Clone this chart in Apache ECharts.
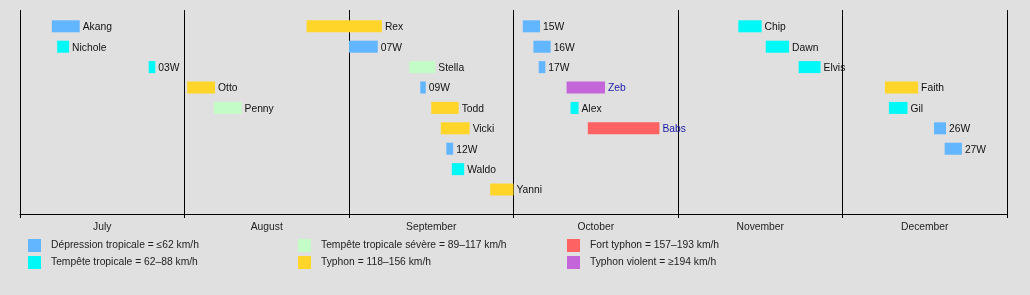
<!DOCTYPE html>
<html>
<head>
<meta charset="utf-8">
<script src="https://cdn.jsdelivr.net/npm/echarts@6/dist/echarts.min.js"></script>
<style>
html,body{margin:0;padding:0;background:#e0e0e0;}
#chart{width:1030px;height:295px;}
</style>
</head>
<body>
<div id="chart"></div>
<script>
// ---- data ----
const months = ['July', 'August', 'September', 'October', 'November', 'December'];
const monthNumbers = [7, 8, 9, 10, 11, 12];
const daysInMonth = [31, 31, 30, 31, 30, 31];

const stormNames = ['Akang','Nichole','03W','Otto','Penny','Rex','07W','Stella','09W','Todd','Vicki','12W','Waldo','Yanni',
  '15W','16W','17W','Zeb','Alex','Babs','Chip','Dawn','Elvis','Faith','Gil','26W','27W'];
const stormClass = ['TD','TS','TS','TY','STS','TY','TD','STS','TD','TY','TY','TD','TS','TY',
  'TD','TD','TD','VTY','TS','STY','TS','TS','TS','TY','TS','TD','TD'];
const stormStart = ['07-07 00','07-08 00','07-25 06','08-01 12','08-06 12','08-24 00','09-01 00','09-12 00','09-14 00','09-16 00','09-17 18','09-18 18','09-19 18','09-26 18',
  '10-02 18','10-04 18','10-05 18','10-11 00','10-11 18','10-15 00','11-12 00','11-17 00','11-23 00','12-09 00','12-09 18','12-18 06','12-20 06'];
const stormEnd = ['07-12 06','07-10 06','07-26 12','08-06 18','08-11 18','09-07 00','09-06 06','09-16 18','09-15 00','09-21 00','09-23 00','09-20 00','09-22 00','10-01 00',
  '10-06 00','10-08 00','10-07 00','10-18 06','10-13 06','10-28 12','11-16 06','11-21 06','11-27 00','12-15 06','12-13 06','12-20 12','12-23 12'];
const stormLane = [0,1,2,3,4,0,1,2,3,4,5,6,7,8,
  0,1,2,3,4,5,0,1,2,3,4,5,6];
const linkedNames = ['Zeb','Babs'];

const classKeys = ['TD','TS','STS','TY','STY','VTY'];
const classLabels = [
  'Dépression tropicale = ≤62 km/h',
  'Tempête tropicale = 62–88 km/h',
  'Tempête tropicale sévère = 89–117 km/h',
  'Typhon = 118–156 km/h',
  'Fort typhon = 157–193 km/h',
  'Typhon violent = ≥194 km/h'
];
const classColors = ['#62b6ff','#00f8f6','#c4fcc8','#ffd52a','#ff6262','#c466d9'];

// ---- helpers ----
function toPos(s) {
  const [md, hh] = s.split(' ');
  const [m, d] = md.split('-').map(Number);
  const mi = monthNumbers.indexOf(m);
  return mi + (d - 1 + Number(hh) / 24) / daysInMonth[mi];
}

const FAMILY = '"Liberation Sans", Arial, sans-serif';
const FSIZE = 10.3;
const FONT = FSIZE + 'px ' + FAMILY;

const series = classKeys.map((key, ci) => {
  const data = [];
  stormNames.forEach((n, i) => {
    if (stormClass[i] === key) {
      data.push({ value: [toPos(stormStart[i]), toPos(stormEnd[i]), stormLane[i]], name: n });
    }
  });
  return {
    type: 'custom',
    name: classLabels[ci],
    xAxisIndex: 1,
    yAxisIndex: 0,
    itemStyle: { color: classColors[ci] },
    encode: { x: [0, 1], y: 2 },
    data: data,
    renderItem: function (params, api) {
      const s = api.coord([api.value(0), api.value(2)]);
      const e = api.coord([api.value(1), api.value(2)]);
      const nm = data[params.dataIndex].name;
      return {
        type: 'group',
        children: [
          { type: 'rect', shape: { x: s[0], y: s[1] - 6, width: e[0] - s[0], height: 12 },
            style: { fill: classColors[ci] } },
          { type: 'text', x: e[0] + 3, y: s[1] + 1,
            style: { text: nm, font: FONT, fill: linkedNames.indexOf(nm) >= 0 ? '#1a1aa8' : '#111',
                     align: 'left', verticalAlign: 'middle' } }
        ]
      };
    }
  };
});

function legendFor(idxs, left) {
  return {
    orient: 'vertical', left: left, top: 239, padding: 0, itemGap: 4,
    itemWidth: 13, itemHeight: 13, icon: 'rect', selectedMode: false,
    textStyle: { fontSize: FSIZE, color: '#222', fontFamily: FAMILY, padding: [3,0,0,5] },
    data: idxs.map(i => classLabels[i])
  };
}

const chart = echarts.init(document.getElementById('chart'), null, { renderer: 'canvas' });
chart.setOption({
  backgroundColor: '#e0e0e0',
  animation: false,
  grid: { left: 20, right: 23, top: 10, bottom: 81 },
  legend: [legendFor([0,1], 28), legendFor([2,3], 298), legendFor([4,5], 567)],
  xAxis: [
    { type: 'category', data: months, boundaryGap: true, position: 'bottom',
      axisLine: { onZero: false, lineStyle: { color: '#000', width: 1 } },
      axisTick: { show: true, length: 4, alignWithLabel: false, lineStyle: { color: '#000' } },
      axisLabel: { color: '#222', fontSize: FSIZE, fontFamily: FAMILY, margin: 8 },
      splitLine: { show: true, lineStyle: { color: '#000', width: 1 } } },
    { type: 'value', min: 0, max: 6, show: false, splitLine: { show: false } }
  ],
  yAxis: [{ type: 'value', inverse: true, min: -0.8, max: 9.2, show: false, splitLine: { show: false } }],
  series: series
});
</script>
</body>
</html>
